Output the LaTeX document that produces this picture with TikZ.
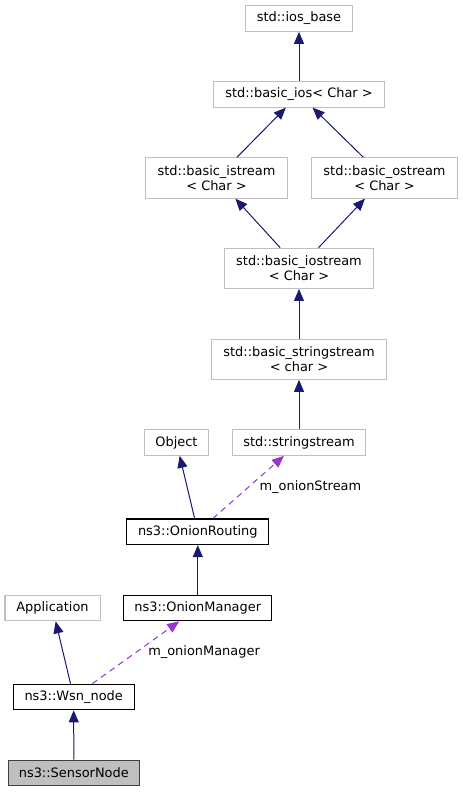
\documentclass[tikz,border=0pt]{standalone}
\usepackage{fontspec}
\setmainfont{DejaVu Sans}
\usepackage{xcolor}
\usepackage{tikz}
\usetikzlibrary{arrows.meta, positioning}
\definecolor{edgeblue}{HTML}{191970}
\definecolor{edgepurple}{HTML}{9A32CD}
\definecolor{boxgray}{HTML}{BFBFBF}
\definecolor{boxdark}{HTML}{404040}
\tikzstyle{inherit} = [draw=edgeblue, line width=0.75pt, -{Triangle[length=9pt, width=7.5pt]}]
\tikzstyle{usage} = [draw=edgepurple, line width=0.75pt, dash pattern=on 4.5pt off 3.5pt, -{Triangle[length=9pt, width=7.5pt]}]
\tikzstyle{extclass} = [rectangle, draw=boxgray, line width=0.8pt, minimum height=19.2pt, inner sep=0pt, align=center]
\tikzstyle{nsclass} = [rectangle, draw=black, line width=0.8pt, minimum height=19.2pt, inner sep=0pt, align=center]
\tikzset{
	twoline/.style = {minimum height=30.2pt},
	focus/.style = {nsclass, fill=boxgray, draw=boxdark},
	edgelabel/.style = {inner sep=2pt, text=black}
}

\begin{document}
\begin{tikzpicture}[x=0.75pt, y=-0.75pt, font=\fontsize{9.7}{11}\selectfont]
\useasboundingbox (0,0) rectangle (463,792);
%----------------------------------------------------------------------------
% Placement of class nodes
\node (iosBase) [extclass, minimum width=80pt] at (299,18.5) {std::ios\_base};
\node (basicIos) [extclass, minimum width=128.3pt] at (299,94.3) {std::basic\_ios< Char >};

% istream / ostream pair
\node (basicIstream) [extclass, twoline, minimum width=106.2pt] at (216.5,178) {std::basic\_istream\\< Char >};
\node (basicOstream) [extclass, twoline, minimum width=109.2pt] at (384.5,178) {std::basic\_ostream\\< Char >};

\node (basicIostream) [extclass, twoline, minimum width=112.3pt] at (299,268.3) {std::basic\_iostream\\< Char >};
\node (basicStringstream) [extclass, twoline, minimum width=131.3pt] at (299,359.2) {std::basic\_stringstream\\< char >};

\node (object) [extclass, minimum width=48.3pt] at (176.5,442.5) {Object};
\node (stringstream) [extclass, minimum width=100.3pt] at (299,442.5) {std::stringstream};

% ns3 classes
\node (onionRouting) [nsclass, minimum width=106.3pt] at (197.8,531.8) {ns3::OnionRouting};
\node (application) [extclass, minimum width=71.3pt] at (52.5,608) {Application};
\node (onionManager) [nsclass, minimum width=111.2pt] at (197.8,608) {ns3::OnionManager};
\node (wsnNode) [nsclass, minimum width=90.5pt] at (73.7,697) {ns3::Wsn\_node};
\node (sensorNode) [focus, minimum width=98.3pt] at (73.8,773) {ns3::SensorNode};

%----------------------------------------------------------------------------
% Draw inheritance lines
\draw [inherit] (basicIos) -- (iosBase);
\draw [inherit] (basicIstream) -- (basicIos);
\draw [inherit] (basicOstream) -- (basicIos);
\draw [inherit] (basicIostream) -- (basicIstream);
\draw [inherit] (basicIostream) -- (basicOstream);
\draw [inherit] (basicStringstream) -- (basicIostream);
\draw [inherit] (stringstream) -- (basicStringstream);
\draw [inherit] (onionRouting) -- (object);
\draw [inherit] (onionManager) -- (onionRouting);
\draw [inherit] (wsnNode) -- (application);
\draw [inherit] (sensorNode) -- (wsnNode);

%----------------------------------------------------------------------------
% Draw usage lines
\draw [usage] (onionRouting) -- node[edgelabel, pos=0.5, anchor=west, xshift=6pt] {m\_onionStream} (stringstream);
\draw [usage] (wsnNode) -- node[edgelabel, pos=0.5, anchor=west, xshift=7pt] {m\_onionManager} (onionManager);

\end{tikzpicture}
\end{document}
